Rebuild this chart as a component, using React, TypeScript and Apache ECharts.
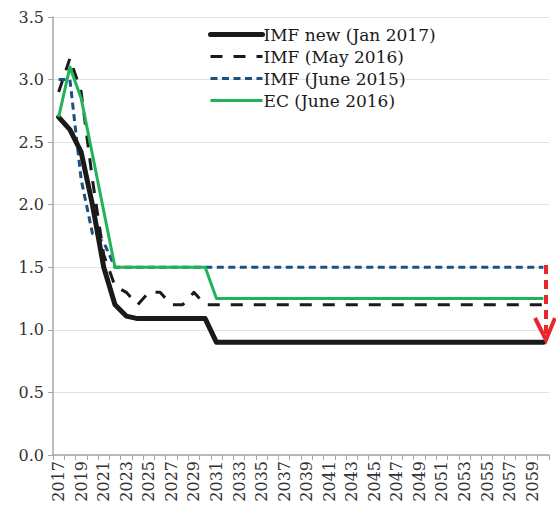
import React, { useEffect, useRef } from "react";
import * as echarts from "echarts";

// Years on the horizontal axis
const years: string[] = [
  "2017", "2018", "2019", "2020", "2021", "2022", "2023", "2024", "2025", "2026",
  "2027", "2028", "2029", "2030", "2031", "2032", "2033", "2034", "2035", "2036",
  "2037", "2038", "2039", "2040", "2041", "2042", "2043", "2044", "2045", "2046",
  "2047", "2048", "2049", "2050", "2051", "2052", "2053", "2054", "2055", "2056",
  "2057", "2058", "2059", "2060",
];

// Long-run growth assumptions, % per year
const imfNewJan2017: number[] = [
  2.7, 2.6, 2.42, 2.0, 1.5, 1.2, 1.11, 1.09, 1.09, 1.09,
  1.09, 1.09, 1.09, 1.09, 0.9, 0.9, 0.9, 0.9, 0.9, 0.9,
  0.9, 0.9, 0.9, 0.9, 0.9, 0.9, 0.9, 0.9, 0.9, 0.9,
  0.9, 0.9, 0.9, 0.9, 0.9, 0.9, 0.9, 0.9, 0.9, 0.9,
  0.9, 0.9, 0.9, 0.9,
];

const imfMay2016: number[] = [
  2.9, 3.17, 2.9, 2.2, 1.6, 1.35, 1.3, 1.2, 1.3, 1.3,
  1.2, 1.2, 1.3, 1.2, 1.2, 1.2, 1.2, 1.2, 1.2, 1.2,
  1.2, 1.2, 1.2, 1.2, 1.2, 1.2, 1.2, 1.2, 1.2, 1.2,
  1.2, 1.2, 1.2, 1.2, 1.2, 1.2, 1.2, 1.2, 1.2, 1.2,
  1.2, 1.2, 1.2, 1.2,
];

const imfJune2015: number[] = [
  3.0, 3.0, 2.2, 1.77, 1.7, 1.5, 1.5, 1.5, 1.5, 1.5,
  1.5, 1.5, 1.5, 1.5, 1.5, 1.5, 1.5, 1.5, 1.5, 1.5,
  1.5, 1.5, 1.5, 1.5, 1.5, 1.5, 1.5, 1.5, 1.5, 1.5,
  1.5, 1.5, 1.5, 1.5, 1.5, 1.5, 1.5, 1.5, 1.5, 1.5,
  1.5, 1.5, 1.5, 1.5,
];

const ecJune2016: number[] = [
  2.7, 3.1, 2.85, 2.4, 1.95, 1.5, 1.5, 1.5, 1.5, 1.5,
  1.5, 1.5, 1.5, 1.5, 1.25, 1.25, 1.25, 1.25, 1.25, 1.25,
  1.25, 1.25, 1.25, 1.25, 1.25, 1.25, 1.25, 1.25, 1.25, 1.25,
  1.25, 1.25, 1.25, 1.25, 1.25, 1.25, 1.25, 1.25, 1.25, 1.25,
  1.25, 1.25, 1.25, 1.25,
];

const seriesNames = [
  "IMF new (Jan 2017)",
  "IMF (May 2016)",
  "IMF (June 2015)",
  "EC (June 2016)",
];

const FONT = "DejaVu Serif";
const RED = "#e8262b";
const BLACK = "#1a1a1a";
const BLUE = "#1c4f82";
const GREEN = "#22b35a";

const styles = [
  { color: BLACK, width: 5, type: "solid" as any, cap: "round" },
  { color: BLACK, width: 3, type: [12, 11] as any, cap: "butt" },
  { color: BLUE, width: 3, type: [7, 4.5] as any, cap: "butt" },
  { color: GREEN, width: 3, type: "solid" as any, cap: "butt" },
];

export default function App() {
  const ref = useRef<HTMLDivElement>(null);

  useEffect(() => {
    if (!ref.current) return;
    const chart = echarts.init(ref.current, undefined, { renderer: "svg" });

    chart.setOption({
      animation: false,
      backgroundColor: "#ffffff",
      grid: { left: 53, top: 17, right: 7, bottom: 56, containLabel: false },
      legend: {
        orient: "vertical",
        left: 203,
        top: 21,
        itemWidth: 52,
        itemHeight: 12,
        itemGap: 5,
        data: seriesNames.map((name, i) => ({
          name,
          itemStyle: { opacity: 0 },
          lineStyle: {
            color: styles[i].color,
            width: styles[i].width,
            type: styles[i].type,
            cap: styles[i].cap,
          },
        })),
        textStyle: {
          fontFamily: FONT,
          fontSize: 17,
          color: "#1a1a1a",
          lineHeight: 17,
          padding: [0, 0, 0, -4],
        },
      },
      xAxis: {
        type: "category",
        data: years,
        boundaryGap: true,
        axisLine: { show: true, lineStyle: { color: "#a6a6a6", width: 1.5 } },
        axisTick: { show: true, interval: 0, length: 5, lineStyle: { color: "#a6a6a6" } },
        axisLabel: {
          interval: 1,
          rotate: 90,
          fontFamily: FONT,
          fontSize: 16,
          color: "#333333",
          margin: 6,
        },
        splitLine: { show: false },
      },
      yAxis: {
        type: "value",
        min: 0,
        max: 3.5,
        interval: 0.5,
        axisLine: { show: true, lineStyle: { color: "#a6a6a6", width: 1.5 } },
        axisTick: { show: true, length: 5, lineStyle: { color: "#a6a6a6" } },
        axisLabel: {
          fontFamily: FONT,
          fontSize: 16,
          color: "#333333",
          margin: 9,
          formatter: (v: number) => v.toFixed(1),
        },
        splitLine: { show: true, lineStyle: { color: "#e3e3e3", width: 1 } },
      },
      series: [imfNewJan2017, imfMay2016, imfJune2015, ecJune2016].map((data, i) => ({
        name: seriesNames[i],
        type: "line",
        data,
        symbol: "none",
        z: [4, 3, 2, 5][i],
        lineStyle: {
          color: styles[i].color,
          width: styles[i].width,
          type: styles[i].type,
          cap: styles[i].cap,
          join: "round",
        },
        itemStyle: { color: styles[i].color },
      })),
      // Red downward arrow marking the revision on the right edge
      graphic: [
        {
          type: "line",
          z: 100,
          shape: { x1: 546, y1: 265, x2: 546, y2: 334 },
          style: { stroke: RED, lineWidth: 4, lineDash: [9, 6] },
        },
        {
          type: "polyline",
          z: 100,
          shape: { points: [[535, 318], [546, 340], [555, 318]] },
          style: { stroke: RED, lineWidth: 4, fill: null, lineJoin: "miter" },
        },
      ],
    });

    return () => chart.dispose();
  }, []);

  return (
    <div
      ref={ref}
      style={{ position: "absolute", left: 0, top: 0, width: 556, height: 511 }}
    />
  );
}
